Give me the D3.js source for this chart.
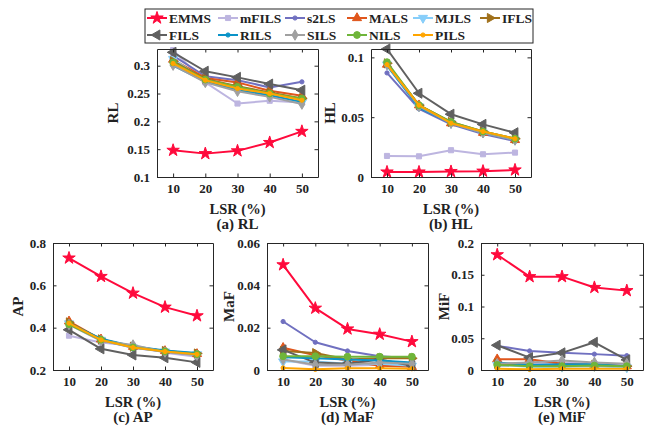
<!DOCTYPE html>
<html>
<head>
<meta charset="utf-8">
<script src="https://cdn.jsdelivr.net/npm/d3@7"></script>
<style>
  body { margin: 0; background: #fff; }
  svg text { font-family: "Liberation Serif", "Times New Roman", serif; font-weight: bold; fill: #222; }
</style>
</head>
<body>
<svg width="652" height="429"></svg>
<script>
const lsr = [10, 20, 30, 40, 50];
const methods = ['EMMS', 'mFILS', 's2LS', 'MALS', 'MJLS', 'IFLS', 'FILS', 'RILS', 'SILS', 'NILS', 'PILS'];
const colors = ['#ff0a3c', '#bdb5e0', '#7070c0', '#e0561c', '#87cefa', '#a0701a', '#606060', '#0a93c8', '#a0a0a0', '#6fb53a', '#ffa500'];
const markers = ['star', 'square', 'dot', 'up', 'down', 'right', 'left', 'dot', 'diamond', 'circle', 'dot'];

// one row per method, same order as `methods`
const rlValues = [
    [0.148, 0.142, 0.147, 0.162, 0.182],
    [0.328, 0.270, 0.232, 0.237, 0.234],
    [0.318, 0.281, 0.274, 0.261, 0.271],
    [0.311, 0.278, 0.270, 0.255, 0.246],
    [0.312, 0.273, 0.258, 0.246, 0.234],
    [0.308, 0.276, 0.263, 0.252, 0.241],
    [0.324, 0.290, 0.279, 0.267, 0.256],
    [0.300, 0.272, 0.256, 0.247, 0.235],
    [0.301, 0.270, 0.254, 0.244, 0.231],
    [0.306, 0.275, 0.262, 0.250, 0.241],
    [0.304, 0.274, 0.259, 0.250, 0.238]
];
const hlValues = [
    [0.0042, 0.0042, 0.0046, 0.0049, 0.0059],
    [0.0176, 0.0173, 0.0224, 0.0190, 0.0204],
    [0.087, 0.057, 0.044, 0.036, 0.030],
    [0.094, 0.060, 0.045, 0.037, 0.031],
    [0.094, 0.059, 0.045, 0.037, 0.031],
    [0.095, 0.060, 0.046, 0.038, 0.032],
    [0.107, 0.070, 0.0525, 0.044, 0.037],
    [0.093, 0.058, 0.045, 0.037, 0.031],
    [0.094, 0.059, 0.045, 0.037, 0.031],
    [0.096, 0.060, 0.046, 0.038, 0.032],
    [0.094, 0.060, 0.045, 0.038, 0.032]
];
const apValues = [
    [0.729, 0.642, 0.563, 0.497, 0.456],
    [0.362, 0.330, 0.315, 0.282, 0.262],
    [0.418, 0.340, 0.305, 0.286, 0.272],
    [0.430, 0.345, 0.310, 0.290, 0.276],
    [0.420, 0.342, 0.306, 0.287, 0.274],
    [0.425, 0.345, 0.310, 0.290, 0.278],
    [0.390, 0.300, 0.271, 0.258, 0.236],
    [0.420, 0.348, 0.312, 0.292, 0.280],
    [0.415, 0.338, 0.318, 0.285, 0.270],
    [0.416, 0.343, 0.307, 0.288, 0.275],
    [0.421, 0.342, 0.306, 0.287, 0.274]
];
const mafValues = [
    [0.0497, 0.0292, 0.0194, 0.0169, 0.0134],
    [0.0050, 0.0020, 0.0020, 0.0025, 0.0020],
    [0.0229, 0.0131, 0.0090, 0.0065, 0.0055],
    [0.0105, 0.0070, 0.0045, 0.0020, 0.0015],
    [0.0040, 0.0040, 0.0030, 0.0030, 0.0020],
    [0.0090, 0.0080, 0.0050, 0.0055, 0.0055],
    [0.0095, 0.0035, 0.0030, 0.0050, 0.0020],
    [0.0060, 0.0055, 0.0050, 0.0045, 0.0035],
    [0.0050, 0.0025, 0.0025, 0.0035, 0.0030],
    [0.0065, 0.0065, 0.0063, 0.0063, 0.0063],
    [0.0010, 0.0003, 0.0008, 0.0008, 0.0006]
];
const mifValues = [
    [0.1815, 0.147, 0.147, 0.130, 0.125],
    [0.006, 0.010, 0.012, 0.010, 0.008],
    [0.038, 0.030, 0.027, 0.025, 0.0226],
    [0.017, 0.017, 0.010, 0.008, 0.006],
    [0.008, 0.005, 0.005, 0.006, 0.004],
    [0.010, 0.008, 0.007, 0.008, 0.006],
    [0.039, 0.0195, 0.027, 0.0436, 0.016],
    [0.012, 0.008, 0.009, 0.009, 0.006],
    [0.010, 0.012, 0.015, 0.012, 0.010],
    [0.008, 0.006, 0.006, 0.007, 0.006],
    [0.002, 0.001, 0.002, 0.002, 0.002]
];

const rlTicks = [0.1, 0.15, 0.2, 0.25, 0.3];
const hlTicks = [0, 0.05, 0.1];
const apTicks = [0.2, 0.4, 0.6, 0.8];
const mafTicks = [0, 0.02, 0.04, 0.06];
const mifTicks = [0, 0.05, 0.1, 0.15, 0.2];

const panels = [
    { name: 'RL', caption: '(a) RL', values: rlValues, ticks: rlTicks, domain: [0.1, 0.33], box: [157, 49, 161, 128], labelX: -44 },
    { name: 'HL', caption: '(b) HL', values: hlValues, ticks: hlTicks, domain: [0, 0.107], box: [371, 49, 160, 128], labelX: -41 },
    { name: 'AP', caption: '(c) AP', values: apValues, ticks: apTicks, domain: [0.2, 0.8], box: [53, 243, 160, 127], labelX: -35 },
    { name: 'MaF', caption: '(d) MaF', values: mafValues, ticks: mafTicks, domain: [0, 0.06], box: [267, 243, 161, 127], labelX: -38 },
    { name: 'MiF', caption: '(e) MiF', values: mifValues, ticks: mifTicks, domain: [0, 0.2], box: [481, 243, 162, 127], labelX: -37 }
];

const svg = d3.select('svg');
const AXIS_COLOR = '#262626';
const LINE_WIDTH = 2;

function drawMarker(g, kind, color, x, y) {
    var type = d3.symbolCircle, size = 14, rot = 0;
    if (kind === 'star') { type = d3.symbolStar; size = 48; }
    else if (kind === 'square') { type = d3.symbolSquare; size = 26; }
    else if (kind === 'circle') { type = d3.symbolCircle; size = 36; }
    else if (kind === 'diamond') { type = d3.symbolDiamond; size = 32; }
    else if (kind === 'up') { type = d3.symbolTriangle; size = 36; }
    else if (kind === 'down') { type = d3.symbolTriangle; size = 36; rot = 180; }
    else if (kind === 'right') { type = d3.symbolTriangle; size = 36; rot = 90; }
    else if (kind === 'left') { type = d3.symbolTriangle; size = 44; rot = -90; }
    g.append('path')
        .attr('d', d3.symbol().type(type).size(size)())
        .attr('transform', 'translate(' + x + ',' + y + ') rotate(' + rot + ')')
        .attr('fill', color)
        .attr('stroke', color)
        .attr('stroke-width', 1);
}

panels.forEach(p => {
    var [left, top, w, h] = p.box;
    var g = svg.append('g').attr('transform', 'translate(' + left + ',' + top + ')');

    var x = d3.scaleLinear().domain([5, 55]).range([0, w]);
    var y = d3.scaleLinear().domain(p.domain).range([h, 0]);
    var fmt = v => String(+v.toFixed(3));

    // series
    var line = d3.line().x((d, i) => x(lsr[i])).y(d => y(d));
    var order = d3.range(methods.length).slice(1).concat([0]);
    order.forEach(k => {
        g.append('path')
            .datum(p.values[k])
            .attr('fill', 'none')
            .attr('stroke', colors[k])
            .attr('stroke-width', LINE_WIDTH)
            .attr('stroke-linejoin', 'round')
            .attr('d', line);
        p.values[k].forEach((v, i) => drawMarker(g, markers[k], colors[k], x(lsr[i]), y(v)));
    });

    // axes, ticks inside, box on
    var bottom = g.append('g').attr('transform', 'translate(0,' + h + ')')
        .call(d3.axisBottom(x).tickValues(lsr).tickSizeInner(-3.5).tickSizeOuter(0).tickPadding(7));
    g.append('g')
        .call(d3.axisLeft(y).tickValues(p.ticks).tickFormat(fmt).tickSizeInner(-3.5).tickSizeOuter(0).tickPadding(7));
    g.append('g').call(d3.axisTop(x).tickValues(lsr).tickSizeInner(-3.5).tickSizeOuter(0).tickFormat(''));
    g.append('g').attr('transform', 'translate(' + w + ',0)')
        .call(d3.axisRight(y).tickValues(p.ticks).tickSizeInner(-3.5).tickSizeOuter(0).tickFormat(''));
    g.selectAll('.domain').attr('stroke', AXIS_COLOR).attr('stroke-width', 1);
    g.selectAll('.tick line').attr('stroke', AXIS_COLOR);
    g.selectAll('.tick text').attr('font-size', 13).attr('fill', '#222');
    bottom.selectAll('.tick text').attr('dy', '0.71em');

    g.append('text')
        .attr('transform', 'translate(' + p.labelX + ',' + (h / 2) + ') rotate(-90)')
        .attr('text-anchor', 'middle')
        .attr('dy', '0.35em')
        .attr('font-size', 15)
        .text(p.name);
    g.append('text')
        .attr('x', w / 2).attr('y', h + 37)
        .attr('text-anchor', 'middle')
        .attr('font-size', 14.5)
        .text('LSR (%)');
    g.append('text')
        .attr('x', w / 2).attr('y', h + 52)
        .attr('text-anchor', 'middle')
        .attr('font-size', 15)
        .text(p.caption);
});

// legend
var legendCols = [147, 218, 285, 347, 413, 480];
var legend = svg.append('g');
legend.append('rect')
    .attr('x', 145).attr('y', 9).attr('width', 388).attr('height', 34)
    .attr('fill', '#fff').attr('stroke', AXIS_COLOR).attr('stroke-width', 1);
methods.forEach((m, k) => {
    var col = k < 6 ? k : k - 6;
    var lx = legendCols[col];
    var ly = k < 6 ? 18 : 35;
    legend.append('line')
        .attr('x1', lx).attr('x2', lx + 20).attr('y1', ly).attr('y2', ly)
        .attr('stroke', colors[k]).attr('stroke-width', LINE_WIDTH);
    drawMarker(legend, markers[k], colors[k], lx + 10, ly);
    legend.append('text')
        .attr('x', lx + 22).attr('y', ly).attr('dy', '0.35em')
        .attr('font-size', 13.5)
        .text(m);
});
</script>
</body>
</html>
